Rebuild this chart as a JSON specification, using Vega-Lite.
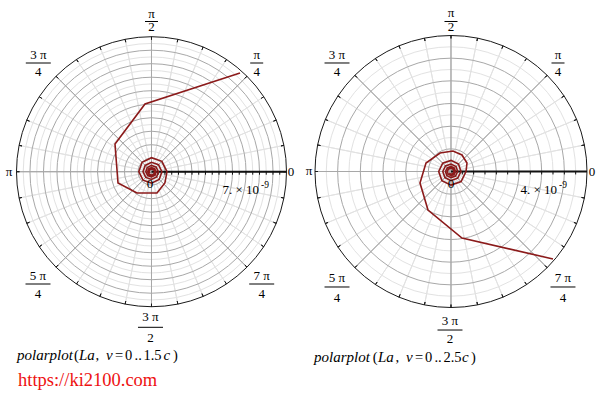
{
"$schema": "https://vega.github.io/schema/vega-lite/v6.json",
"background": "white",
"padding": 0,
"spacing": 0,
"config": {"view": {"stroke": null}, "text": {"font": "Liberation Serif"}},
"resolve": {"scale": {"x": "independent", "y": "independent", "theta": "independent", "radius": "independent", "stroke": "independent", "strokeWidth": "independent"}},
"datasets": {
"arcL": [
{"t1":0,"t2":360,"r1":0,"r2":0.5,"k":"minor"},{"t1":0,"t2":360,"r1":0,"r2":1.5,"k":"minor"},{"t1":0,"t2":360,"r1":0,"r2":2.5,"k":"minor"},{"t1":0,"t2":360,"r1":0,"r2":3.5,"k":"minor"},{"t1":0,"t2":360,"r1":0,"r2":4.5,"k":"minor"},{"t1":0,"t2":360,"r1":0,"r2":5.5,"k":"minor"},{"t1":0,"t2":360,"r1":0,"r2":6.5,"k":"minor"},{"t1":0,"t2":360,"r1":0,"r2":7.5,"k":"minor"},{"t1":0,"t2":360,"r1":0,"r2":8.5,"k":"minor"},{"t1":0,"t2":360,"r1":0,"r2":9.5,"k":"minor"},
{"t1":11.25,"t2":11.25,"r1":0,"r2":10,"k":"minor"},{"t1":22.5,"t2":22.5,"r1":0,"r2":10,"k":"minor"},{"t1":33.75,"t2":33.75,"r1":0,"r2":10,"k":"minor"},{"t1":56.25,"t2":56.25,"r1":0,"r2":10,"k":"minor"},{"t1":67.5,"t2":67.5,"r1":0,"r2":10,"k":"minor"},{"t1":78.75,"t2":78.75,"r1":0,"r2":10,"k":"minor"},{"t1":101.25,"t2":101.25,"r1":0,"r2":10,"k":"minor"},{"t1":112.5,"t2":112.5,"r1":0,"r2":10,"k":"minor"},{"t1":123.75,"t2":123.75,"r1":0,"r2":10,"k":"minor"},{"t1":146.25,"t2":146.25,"r1":0,"r2":10,"k":"minor"},{"t1":157.5,"t2":157.5,"r1":0,"r2":10,"k":"minor"},{"t1":168.75,"t2":168.75,"r1":0,"r2":10,"k":"minor"},{"t1":191.25,"t2":191.25,"r1":0,"r2":10,"k":"minor"},{"t1":202.5,"t2":202.5,"r1":0,"r2":10,"k":"minor"},{"t1":213.75,"t2":213.75,"r1":0,"r2":10,"k":"minor"},{"t1":236.25,"t2":236.25,"r1":0,"r2":10,"k":"minor"},{"t1":247.5,"t2":247.5,"r1":0,"r2":10,"k":"minor"},{"t1":258.75,"t2":258.75,"r1":0,"r2":10,"k":"minor"},{"t1":281.25,"t2":281.25,"r1":0,"r2":10,"k":"minor"},{"t1":292.5,"t2":292.5,"r1":0,"r2":10,"k":"minor"},{"t1":303.75,"t2":303.75,"r1":0,"r2":10,"k":"minor"},{"t1":326.25,"t2":326.25,"r1":0,"r2":10,"k":"minor"},{"t1":337.5,"t2":337.5,"r1":0,"r2":10,"k":"minor"},{"t1":348.75,"t2":348.75,"r1":0,"r2":10,"k":"minor"},
{"t1":0,"t2":360,"r1":0,"r2":1,"k":"major"},{"t1":0,"t2":360,"r1":0,"r2":2,"k":"major"},{"t1":0,"t2":360,"r1":0,"r2":3,"k":"major"},{"t1":0,"t2":360,"r1":0,"r2":4,"k":"major"},{"t1":0,"t2":360,"r1":0,"r2":5,"k":"major"},{"t1":0,"t2":360,"r1":0,"r2":6,"k":"major"},{"t1":0,"t2":360,"r1":0,"r2":7,"k":"major"},{"t1":0,"t2":360,"r1":0,"r2":8,"k":"major"},{"t1":0,"t2":360,"r1":0,"r2":9,"k":"major"},
{"t1":0,"t2":0,"r1":0,"r2":10,"k":"major"},{"t1":45,"t2":45,"r1":0,"r2":10,"k":"major"},{"t1":90,"t2":90,"r1":0,"r2":10,"k":"major"},{"t1":135,"t2":135,"r1":0,"r2":10,"k":"major"},{"t1":180,"t2":180,"r1":0,"r2":10,"k":"major"},{"t1":225,"t2":225,"r1":0,"r2":10,"k":"major"},{"t1":270,"t2":270,"r1":0,"r2":10,"k":"major"},{"t1":315,"t2":315,"r1":0,"r2":10,"k":"major"},
{"t1":0,"t2":360,"r1":0,"r2":10,"k":"outer"},
{"t1":0,"t2":0,"r1":9.78,"r2":10,"k":"tick"},{"t1":11.25,"t2":11.25,"r1":9.78,"r2":10,"k":"tick"},{"t1":22.5,"t2":22.5,"r1":9.78,"r2":10,"k":"tick"},{"t1":33.75,"t2":33.75,"r1":9.78,"r2":10,"k":"tick"},{"t1":45,"t2":45,"r1":9.78,"r2":10,"k":"tick"},{"t1":56.25,"t2":56.25,"r1":9.78,"r2":10,"k":"tick"},{"t1":67.5,"t2":67.5,"r1":9.78,"r2":10,"k":"tick"},{"t1":78.75,"t2":78.75,"r1":9.78,"r2":10,"k":"tick"},{"t1":90,"t2":90,"r1":9.78,"r2":10,"k":"tick"},{"t1":101.25,"t2":101.25,"r1":9.78,"r2":10,"k":"tick"},{"t1":112.5,"t2":112.5,"r1":9.78,"r2":10,"k":"tick"},{"t1":123.75,"t2":123.75,"r1":9.78,"r2":10,"k":"tick"},{"t1":135,"t2":135,"r1":9.78,"r2":10,"k":"tick"},{"t1":146.25,"t2":146.25,"r1":9.78,"r2":10,"k":"tick"},{"t1":157.5,"t2":157.5,"r1":9.78,"r2":10,"k":"tick"},{"t1":168.75,"t2":168.75,"r1":9.78,"r2":10,"k":"tick"},{"t1":180,"t2":180,"r1":9.78,"r2":10,"k":"tick"},{"t1":191.25,"t2":191.25,"r1":9.78,"r2":10,"k":"tick"},{"t1":202.5,"t2":202.5,"r1":9.78,"r2":10,"k":"tick"},{"t1":213.75,"t2":213.75,"r1":9.78,"r2":10,"k":"tick"},{"t1":225,"t2":225,"r1":9.78,"r2":10,"k":"tick"},{"t1":236.25,"t2":236.25,"r1":9.78,"r2":10,"k":"tick"},{"t1":247.5,"t2":247.5,"r1":9.78,"r2":10,"k":"tick"},{"t1":258.75,"t2":258.75,"r1":9.78,"r2":10,"k":"tick"},{"t1":270,"t2":270,"r1":9.78,"r2":10,"k":"tick"},{"t1":281.25,"t2":281.25,"r1":9.78,"r2":10,"k":"tick"},{"t1":292.5,"t2":292.5,"r1":9.78,"r2":10,"k":"tick"},{"t1":303.75,"t2":303.75,"r1":9.78,"r2":10,"k":"tick"},{"t1":315,"t2":315,"r1":9.78,"r2":10,"k":"tick"},{"t1":326.25,"t2":326.25,"r1":9.78,"r2":10,"k":"tick"},{"t1":337.5,"t2":337.5,"r1":9.78,"r2":10,"k":"tick"},{"t1":348.75,"t2":348.75,"r1":9.78,"r2":10,"k":"tick"}
],
"arcR": [
{"t1":0,"t2":360,"r1":0,"r2":0.5,"k":"minor"},{"t1":0,"t2":360,"r1":0,"r2":1.5,"k":"minor"},{"t1":0,"t2":360,"r1":0,"r2":2.5,"k":"minor"},{"t1":0,"t2":360,"r1":0,"r2":3.5,"k":"minor"},{"t1":0,"t2":360,"r1":0,"r2":4.5,"k":"minor"},{"t1":0,"t2":360,"r1":0,"r2":5.5,"k":"minor"},
{"t1":11.25,"t2":11.25,"r1":0,"r2":6,"k":"minor"},{"t1":22.5,"t2":22.5,"r1":0,"r2":6,"k":"minor"},{"t1":33.75,"t2":33.75,"r1":0,"r2":6,"k":"minor"},{"t1":56.25,"t2":56.25,"r1":0,"r2":6,"k":"minor"},{"t1":67.5,"t2":67.5,"r1":0,"r2":6,"k":"minor"},{"t1":78.75,"t2":78.75,"r1":0,"r2":6,"k":"minor"},{"t1":101.25,"t2":101.25,"r1":0,"r2":6,"k":"minor"},{"t1":112.5,"t2":112.5,"r1":0,"r2":6,"k":"minor"},{"t1":123.75,"t2":123.75,"r1":0,"r2":6,"k":"minor"},{"t1":146.25,"t2":146.25,"r1":0,"r2":6,"k":"minor"},{"t1":157.5,"t2":157.5,"r1":0,"r2":6,"k":"minor"},{"t1":168.75,"t2":168.75,"r1":0,"r2":6,"k":"minor"},{"t1":191.25,"t2":191.25,"r1":0,"r2":6,"k":"minor"},{"t1":202.5,"t2":202.5,"r1":0,"r2":6,"k":"minor"},{"t1":213.75,"t2":213.75,"r1":0,"r2":6,"k":"minor"},{"t1":236.25,"t2":236.25,"r1":0,"r2":6,"k":"minor"},{"t1":247.5,"t2":247.5,"r1":0,"r2":6,"k":"minor"},{"t1":258.75,"t2":258.75,"r1":0,"r2":6,"k":"minor"},{"t1":281.25,"t2":281.25,"r1":0,"r2":6,"k":"minor"},{"t1":292.5,"t2":292.5,"r1":0,"r2":6,"k":"minor"},{"t1":303.75,"t2":303.75,"r1":0,"r2":6,"k":"minor"},{"t1":326.25,"t2":326.25,"r1":0,"r2":6,"k":"minor"},{"t1":337.5,"t2":337.5,"r1":0,"r2":6,"k":"minor"},{"t1":348.75,"t2":348.75,"r1":0,"r2":6,"k":"minor"},
{"t1":0,"t2":360,"r1":0,"r2":1,"k":"major"},{"t1":0,"t2":360,"r1":0,"r2":2,"k":"major"},{"t1":0,"t2":360,"r1":0,"r2":3,"k":"major"},{"t1":0,"t2":360,"r1":0,"r2":4,"k":"major"},{"t1":0,"t2":360,"r1":0,"r2":5,"k":"major"},
{"t1":0,"t2":0,"r1":0,"r2":6,"k":"major"},{"t1":45,"t2":45,"r1":0,"r2":6,"k":"major"},{"t1":90,"t2":90,"r1":0,"r2":6,"k":"major"},{"t1":135,"t2":135,"r1":0,"r2":6,"k":"major"},{"t1":180,"t2":180,"r1":0,"r2":6,"k":"major"},{"t1":225,"t2":225,"r1":0,"r2":6,"k":"major"},{"t1":270,"t2":270,"r1":0,"r2":6,"k":"major"},{"t1":315,"t2":315,"r1":0,"r2":6,"k":"major"},
{"t1":0,"t2":360,"r1":0,"r2":6,"k":"outer"},
{"t1":0,"t2":0,"r1":5.87,"r2":6,"k":"tick"},{"t1":11.25,"t2":11.25,"r1":5.87,"r2":6,"k":"tick"},{"t1":22.5,"t2":22.5,"r1":5.87,"r2":6,"k":"tick"},{"t1":33.75,"t2":33.75,"r1":5.87,"r2":6,"k":"tick"},{"t1":45,"t2":45,"r1":5.87,"r2":6,"k":"tick"},{"t1":56.25,"t2":56.25,"r1":5.87,"r2":6,"k":"tick"},{"t1":67.5,"t2":67.5,"r1":5.87,"r2":6,"k":"tick"},{"t1":78.75,"t2":78.75,"r1":5.87,"r2":6,"k":"tick"},{"t1":90,"t2":90,"r1":5.87,"r2":6,"k":"tick"},{"t1":101.25,"t2":101.25,"r1":5.87,"r2":6,"k":"tick"},{"t1":112.5,"t2":112.5,"r1":5.87,"r2":6,"k":"tick"},{"t1":123.75,"t2":123.75,"r1":5.87,"r2":6,"k":"tick"},{"t1":135,"t2":135,"r1":5.87,"r2":6,"k":"tick"},{"t1":146.25,"t2":146.25,"r1":5.87,"r2":6,"k":"tick"},{"t1":157.5,"t2":157.5,"r1":5.87,"r2":6,"k":"tick"},{"t1":168.75,"t2":168.75,"r1":5.87,"r2":6,"k":"tick"},{"t1":180,"t2":180,"r1":5.87,"r2":6,"k":"tick"},{"t1":191.25,"t2":191.25,"r1":5.87,"r2":6,"k":"tick"},{"t1":202.5,"t2":202.5,"r1":5.87,"r2":6,"k":"tick"},{"t1":213.75,"t2":213.75,"r1":5.87,"r2":6,"k":"tick"},{"t1":225,"t2":225,"r1":5.87,"r2":6,"k":"tick"},{"t1":236.25,"t2":236.25,"r1":5.87,"r2":6,"k":"tick"},{"t1":247.5,"t2":247.5,"r1":5.87,"r2":6,"k":"tick"},{"t1":258.75,"t2":258.75,"r1":5.87,"r2":6,"k":"tick"},{"t1":270,"t2":270,"r1":5.87,"r2":6,"k":"tick"},{"t1":281.25,"t2":281.25,"r1":5.87,"r2":6,"k":"tick"},{"t1":292.5,"t2":292.5,"r1":5.87,"r2":6,"k":"tick"},{"t1":303.75,"t2":303.75,"r1":5.87,"r2":6,"k":"tick"},{"t1":315,"t2":315,"r1":5.87,"r2":6,"k":"tick"},{"t1":326.25,"t2":326.25,"r1":5.87,"r2":6,"k":"tick"},{"t1":337.5,"t2":337.5,"r1":5.87,"r2":6,"k":"tick"},{"t1":348.75,"t2":348.75,"r1":5.87,"r2":6,"k":"tick"}
],
"spiralL": [
{"i":0,"x":-0.126,"y":-0.126},{"i":1,"x":-0.185,"y":0},{"i":2,"x":-0.141,"y":0.141},{"i":3,"x":0,"y":0.207},{"i":4,"x":0.152,"y":0.152},{"i":5,"x":0.23,"y":0},{"i":6,"x":0.173,"y":-0.173},{"i":7,"x":0,"y":-0.252},{"i":8,"x":-0.189,"y":-0.189},{"i":9,"x":-0.281,"y":0},{"i":10,"x":-0.209,"y":0.209},{"i":11,"x":0,"y":0.311},{"i":12,"x":0.231,"y":0.231},{"i":13,"x":0.341,"y":0},{"i":14,"x":0.257,"y":-0.257},{"i":15,"x":0,"y":-0.378},{"i":16,"x":-0.283,"y":-0.283},{"i":17,"x":-0.422,"y":0},{"i":18,"x":-0.314,"y":0.314},{"i":19,"x":0,"y":0.467},{"i":20,"x":0.346,"y":0.346},{"i":21,"x":0.511,"y":0},{"i":22,"x":0.383,"y":-0.383},{"i":23,"x":0,"y":-0.57},{"i":24,"x":-0.424,"y":-0.424},{"i":25,"x":-0.63,"y":0},{"i":26,"x":-0.466,"y":0.466},{"i":27,"x":0,"y":0.696},{"i":28,"x":0.518,"y":0.518},{"i":29,"x":0.77,"y":0},{"i":30,"x":0.571,"y":-0.571},{"i":31,"x":0,"y":-0.844},{"i":32,"x":-0.629,"y":-0.629},{"i":33,"x":-0.941,"y":0},{"i":34,"x":-0.696,"y":0.696},{"i":35,"x":0,"y":1.037},{"i":36,"x":0.77,"y":0.77},{"i":37,"x":1.148,"y":0},{"i":38,"x":0.993,"y":-0.83},{"i":39,"x":0.407,"y":-1.578},{"i":40,"x":-1.074,"y":-1.578},{"i":41,"x":-2.481,"y":-0.837},{"i":42,"x":-2.704,"y":2.052},{"i":43,"x":-0.481,"y":5.015},{"i":44,"x":6.556,"y":7.311}
],
"spiralR": [
{"i":0,"x":-0.081,"y":-0.081},{"i":1,"x":0,"y":-0.119},{"i":2,"x":0.091,"y":-0.091},{"i":3,"x":0.132,"y":0},{"i":4,"x":0.1,"y":0.1},{"i":5,"x":0,"y":0.146},{"i":6,"x":-0.109,"y":0.109},{"i":7,"x":-0.163,"y":0},{"i":8,"x":-0.122,"y":-0.122},{"i":9,"x":0,"y":-0.181},{"i":10,"x":0.134,"y":-0.134},{"i":11,"x":0.199,"y":0},{"i":12,"x":0.146,"y":0.146},{"i":13,"x":0,"y":0.221},{"i":14,"x":-0.162,"y":0.162},{"i":15,"x":-0.243,"y":0},{"i":16,"x":-0.181,"y":-0.181},{"i":17,"x":0,"y":-0.269},{"i":18,"x":0.199,"y":-0.199},{"i":19,"x":0.296,"y":0},{"i":20,"x":0.221,"y":0.221},{"i":21,"x":0,"y":0.326},{"i":22,"x":-0.243,"y":0.243},{"i":23,"x":-0.362,"y":0},{"i":24,"x":-0.268,"y":-0.268},{"i":25,"x":0,"y":-0.401},{"i":26,"x":0.296,"y":-0.296},{"i":27,"x":0.441,"y":0},{"i":28,"x":0.331,"y":0.331},{"i":29,"x":0,"y":0.49},{"i":30,"x":-0.365,"y":0.365},{"i":31,"x":-0.543,"y":0},{"i":32,"x":-0.402,"y":-0.402},{"i":33,"x":0,"y":-0.6},{"i":34,"x":0.446,"y":-0.446},{"i":35,"x":0.662,"y":0},{"i":36,"x":0.706,"y":0.375},{"i":37,"x":0.485,"y":0.728},{"i":38,"x":0.088,"y":0.904},{"i":39,"x":-0.485,"y":0.816},{"i":40,"x":-1.103,"y":0.375},{"i":41,"x":-1.368,"y":-0.507},{"i":42,"x":-1.015,"y":-1.699},{"i":43,"x":0.485,"y":-2.934},{"i":44,"x":4.5,"y":-3.86}
]
},
"hconcat": [
{
"width": 300, "height": 405,
"layer": [
{"data": {"name": "arcL"}, "mark": {"type": "arc", "fill": "transparent"},
 "encoding": {
  "x": {"datum": 0, "type": "quantitative", "scale": {"domain": [-11.222, 11.0], "nice": false, "zero": false}, "axis": null},
  "y": {"datum": 0, "type": "quantitative", "scale": {"domain": [-17.281, 12.719], "nice": false, "zero": false}, "axis": null},
  "theta": {"field": "t1", "type": "quantitative", "stack": null, "scale": {"domain": [0, 360], "range": [0, 6.283185307179586]}},
  "theta2": {"field": "t2"},
  "radius": {"field": "r2", "type": "quantitative", "scale": {"type": "linear", "domain": [0, 10], "range": [0, 135], "zero": true}},
  "radius2": {"field": "r1"},
  "stroke": {"field": "k", "type": "nominal", "scale": {"domain": ["minor", "major", "outer", "tick"], "range": ["#e2e2e2", "#a8a8a8", "#1a1a1a", "#1a1a1a"]}, "legend": null},
  "strokeWidth": {"field": "k", "type": "nominal", "scale": {"domain": ["minor", "major", "outer", "tick"], "range": [1, 1, 1.3, 1]}, "legend": null}
 }},
{"data": {"values": [{"a": 0, "b": 10}]}, "mark": {"type": "rule", "color": "#111111", "strokeWidth": 2},
 "encoding": {
  "x": {"field": "a", "type": "quantitative", "scale": {"domain": [-11.222, 11.0], "nice": false, "zero": false}, "axis": null},
  "x2": {"field": "b"},
  "y": {"datum": 0, "type": "quantitative", "scale": {"domain": [-17.281, 12.719], "nice": false, "zero": false}, "axis": null}
 }},
{"data": {"values": [{"p":0.5},{"p":1},{"p":1.5},{"p":2},{"p":2.5},{"p":3},{"p":3.5},{"p":4},{"p":4.5},{"p":5},{"p":5.5},{"p":6},{"p":6.5},{"p":7},{"p":7.5},{"p":8},{"p":8.5},{"p":9},{"p":9.5}]}, "mark": {"type": "rule", "color": "#111111", "strokeWidth": 1},
 "encoding": {
  "x": {"field": "p", "type": "quantitative", "scale": {"domain": [-11.222, 11.0], "nice": false, "zero": false}, "axis": null},
  "y": {"datum": 0, "type": "quantitative", "scale": {"domain": [-17.281, 12.719], "nice": false, "zero": false}, "axis": null},
  "y2": {"datum": -0.22}
 }},
{"data": {"name": "spiralL"}, "mark": {"type": "line", "color": "#8b1a1a", "strokeWidth": 1.6},
 "encoding": {
  "x": {"field": "x", "type": "quantitative", "scale": {"domain": [-11.222, 11.0], "nice": false, "zero": false}, "axis": null},
  "y": {"field": "y", "type": "quantitative", "scale": {"domain": [-17.281, 12.719], "nice": false, "zero": false}, "axis": null},
  "order": {"field": "i", "type": "quantitative"}
 }},
{"data": {"values": [{"a":-0.481,"b":0.481,"y":11.126},{"a":7.312,"b":8.274,"y":8.052},{"a":-9.311,"b":-7.459,"y":8.052},{"a":-9.333,"b":-7.481,"y":-8.319},{"a":7.237,"b":9.089,"y":-8.319},{"a":-1.0,"b":0.852,"y":-11.526}]}, "mark": {"type": "rule", "color": "#000000", "strokeWidth": 1},
 "encoding": {
  "x": {"field": "a", "type": "quantitative", "scale": {"domain": [-11.222, 11.0], "nice": false, "zero": false}, "axis": null},
  "x2": {"field": "b"},
  "y": {"field": "y", "type": "quantitative", "scale": {"domain": [-17.281, 12.719], "nice": false, "zero": false}, "axis": null}
 }},
{"data": {"values": [{"t":"0","x":10.333,"y":-0.319},{"t":"π","x":-10.556,"y":-0.281},{"t":"π","x":0,"y":11.422},{"t":"2","x":0,"y":10.422},{"t":"π","x":7.793,"y":8.348},{"t":"4","x":7.793,"y":7.089},{"t":"3 π","x":-8.385,"y":8.348},{"t":"4","x":-8.385,"y":7.089},{"t":"5 π","x":-8.407,"y":-8.022},{"t":"4","x":-8.407,"y":-9.356},{"t":"7 π","x":8.163,"y":-8.022},{"t":"4","x":8.163,"y":-9.356},{"t":"3 π","x":-0.074,"y":-11.067},{"t":"2","x":-0.074,"y":-12.615},{"t":"0","x":-0.111,"y":-1.17}]},
 "mark": {"type": "text", "font": "Liberation Serif", "fontSize": 13, "align": "center", "baseline": "alphabetic", "color": "#000000"},
 "encoding": {
  "x": {"field": "x", "type": "quantitative", "scale": {"domain": [-11.222, 11.0], "nice": false, "zero": false}, "axis": null},
  "y": {"field": "y", "type": "quantitative", "scale": {"domain": [-17.281, 12.719], "nice": false, "zero": false}, "axis": null},
  "text": {"field": "t"}
 }},
{"data": {"values": [{"t":"7. × 10","x":7.963,"y":-1.356}]},
 "mark": {"type": "text", "font": "Liberation Serif", "fontSize": 13, "align": "right", "baseline": "middle", "color": "#000000"},
 "encoding": {
  "x": {"field": "x", "type": "quantitative", "scale": {"domain": [-11.222, 11.0], "nice": false, "zero": false}, "axis": null},
  "y": {"field": "y", "type": "quantitative", "scale": {"domain": [-17.281, 12.719], "nice": false, "zero": false}, "axis": null},
  "text": {"field": "t"}
 }},
{"data": {"values": [{"t":"-9","x":8.111,"y":-0.948}]},
 "mark": {"type": "text", "font": "Liberation Serif", "fontSize": 9.5, "align": "left", "baseline": "middle", "color": "#000000"},
 "encoding": {
  "x": {"field": "x", "type": "quantitative", "scale": {"domain": [-11.222, 11.0], "nice": false, "zero": false}, "axis": null},
  "y": {"field": "y", "type": "quantitative", "scale": {"domain": [-17.281, 12.719], "nice": false, "zero": false}, "axis": null},
  "text": {"field": "t"}
 }},
{"data": {"values": [{"t":"polarplot","x":-9.963,"y":-13.911},{"t":"La","x":-5.37,"y":-13.911},{"t":"v","x":-3.37,"y":-13.911},{"t":"c","x":0.889,"y":-13.911}]},
 "mark": {"type": "text", "font": "Liberation Serif", "fontSize": 15, "fontStyle": "italic", "align": "left", "baseline": "alphabetic", "color": "#000000"},
 "encoding": {
  "x": {"field": "x", "type": "quantitative", "scale": {"domain": [-11.222, 11.0], "nice": false, "zero": false}, "axis": null},
  "y": {"field": "y", "type": "quantitative", "scale": {"domain": [-17.281, 12.719], "nice": false, "zero": false}, "axis": null},
  "text": {"field": "t"}
 }},
{"data": {"values": [{"t":"(","x":-5.741,"y":-13.911},{"t":",","x":-4.148,"y":-13.911},{"t":"=","x":-2.704,"y":-13.911},{"t":"0","x":-1.963,"y":-13.911},{"t":"..","x":-1.259,"y":-13.911},{"t":"1.5","x":-0.593,"y":-13.911},{"t":")","x":1.593,"y":-13.911}]},
 "mark": {"type": "text", "font": "Liberation Serif", "fontSize": 14.5, "align": "left", "baseline": "alphabetic", "color": "#000000"},
 "encoding": {
  "x": {"field": "x", "type": "quantitative", "scale": {"domain": [-11.222, 11.0], "nice": false, "zero": false}, "axis": null},
  "y": {"field": "y", "type": "quantitative", "scale": {"domain": [-17.281, 12.719], "nice": false, "zero": false}, "axis": null},
  "text": {"field": "t"}
 }},
{"data": {"values": [{"t":"https://ki2100.com","x":-9.889,"y":-15.874}]},
 "mark": {"type": "text", "font": "Liberation Serif", "fontSize": 18.5, "align": "left", "baseline": "alphabetic", "color": "#ee1111"},
 "encoding": {
  "x": {"field": "x", "type": "quantitative", "scale": {"domain": [-11.222, 11.0], "nice": false, "zero": false}, "axis": null},
  "y": {"field": "y", "type": "quantitative", "scale": {"domain": [-17.281, 12.719], "nice": false, "zero": false}, "axis": null},
  "text": {"field": "t"}
 }}
]
},
{
"width": 300, "height": 405,
"layer": [
{"data": {"name": "arcR"}, "mark": {"type": "arc", "fill": "transparent"},
 "encoding": {
  "x": {"datum": 0, "type": "quantitative", "scale": {"domain": [-6.662, 6.574], "nice": false, "zero": false}, "axis": null},
  "y": {"datum": 0, "type": "quantitative", "scale": {"domain": [-10.301, 7.566], "nice": false, "zero": false}, "axis": null},
  "theta": {"field": "t1", "type": "quantitative", "stack": null, "scale": {"domain": [0, 360], "range": [0, 6.283185307179586]}},
  "theta2": {"field": "t2"},
  "radius": {"field": "r2", "type": "quantitative", "scale": {"type": "linear", "domain": [0, 6], "range": [0, 136], "zero": true}},
  "radius2": {"field": "r1"},
  "stroke": {"field": "k", "type": "nominal", "scale": {"domain": ["minor", "major", "outer", "tick"], "range": ["#e2e2e2", "#a8a8a8", "#1a1a1a", "#1a1a1a"]}, "legend": null},
  "strokeWidth": {"field": "k", "type": "nominal", "scale": {"domain": ["minor", "major", "outer", "tick"], "range": [1, 1, 1.3, 1]}, "legend": null}
 }},
{"data": {"values": [{"a": 0, "b": 6}]}, "mark": {"type": "rule", "color": "#111111", "strokeWidth": 2},
 "encoding": {
  "x": {"field": "a", "type": "quantitative", "scale": {"domain": [-6.662, 6.574], "nice": false, "zero": false}, "axis": null},
  "x2": {"field": "b"},
  "y": {"datum": 0, "type": "quantitative", "scale": {"domain": [-10.301, 7.566], "nice": false, "zero": false}, "axis": null}
 }},
{"data": {"values": [{"p":0.5},{"p":1},{"p":1.5},{"p":2},{"p":2.5},{"p":3},{"p":3.5},{"p":4},{"p":4.5},{"p":5},{"p":5.5}]}, "mark": {"type": "rule", "color": "#111111", "strokeWidth": 1},
 "encoding": {
  "x": {"field": "p", "type": "quantitative", "scale": {"domain": [-6.662, 6.574], "nice": false, "zero": false}, "axis": null},
  "y": {"datum": 0, "type": "quantitative", "scale": {"domain": [-10.301, 7.566], "nice": false, "zero": false}, "axis": null},
  "y2": {"datum": -0.13}
 }},
{"data": {"name": "spiralR"}, "mark": {"type": "line", "color": "#8b1a1a", "strokeWidth": 1.6},
 "encoding": {
  "x": {"field": "x", "type": "quantitative", "scale": {"domain": [-6.662, 6.574], "nice": false, "zero": false}, "axis": null},
  "y": {"field": "y", "type": "quantitative", "scale": {"domain": [-10.301, 7.566], "nice": false, "zero": false}, "axis": null},
  "order": {"field": "i", "type": "quantitative"}
 }},
{"data": {"values": [{"a":-0.287,"b":0.287,"y":6.618},{"a":4.434,"b":5.008,"y":4.787},{"a":-5.58,"b":-4.478,"y":4.787},{"a":-5.58,"b":-4.478,"y":-5.095},{"a":4.39,"b":5.492,"y":-5.095},{"a":-0.595,"b":0.507,"y":-6.993}]}, "mark": {"type": "rule", "color": "#000000", "strokeWidth": 1},
 "encoding": {
  "x": {"field": "a", "type": "quantitative", "scale": {"domain": [-6.662, 6.574], "nice": false, "zero": false}, "axis": null},
  "x2": {"field": "b"},
  "y": {"field": "y", "type": "quantitative", "scale": {"domain": [-10.301, 7.566], "nice": false, "zero": false}, "axis": null}
 }},
{"data": {"values": [{"t":"0","x":6.221,"y":-0.199},{"t":"π","x":-6.265,"y":-0.176},{"t":"π","x":0,"y":6.794},{"t":"2","x":0,"y":6.199},{"t":"π","x":4.721,"y":4.963},{"t":"4","x":4.721,"y":4.213},{"t":"3 π","x":-5.029,"y":4.963},{"t":"4","x":-5.029,"y":4.213},{"t":"5 π","x":-5.029,"y":-4.875},{"t":"4","x":-5.029,"y":-5.757},{"t":"7 π","x":4.941,"y":-4.875},{"t":"4","x":4.941,"y":-5.757},{"t":"3 π","x":-0.044,"y":-6.75},{"t":"2","x":-0.044,"y":-7.566},{"t":"0","x":0,"y":-0.728}]},
 "mark": {"type": "text", "font": "Liberation Serif", "fontSize": 13, "align": "center", "baseline": "alphabetic", "color": "#000000"},
 "encoding": {
  "x": {"field": "x", "type": "quantitative", "scale": {"domain": [-6.662, 6.574], "nice": false, "zero": false}, "axis": null},
  "y": {"field": "y", "type": "quantitative", "scale": {"domain": [-10.301, 7.566], "nice": false, "zero": false}, "axis": null},
  "text": {"field": "t"}
 }},
{"data": {"values": [{"t":"4. × 10","x":4.676,"y":-0.816}]},
 "mark": {"type": "text", "font": "Liberation Serif", "fontSize": 13, "align": "right", "baseline": "middle", "color": "#000000"},
 "encoding": {
  "x": {"field": "x", "type": "quantitative", "scale": {"domain": [-6.662, 6.574], "nice": false, "zero": false}, "axis": null},
  "y": {"field": "y", "type": "quantitative", "scale": {"domain": [-10.301, 7.566], "nice": false, "zero": false}, "axis": null},
  "text": {"field": "t"}
 }},
{"data": {"values": [{"t":"-9","x":4.765,"y":-0.574}]},
 "mark": {"type": "text", "font": "Liberation Serif", "fontSize": 9.5, "align": "left", "baseline": "middle", "color": "#000000"},
 "encoding": {
  "x": {"field": "x", "type": "quantitative", "scale": {"domain": [-6.662, 6.574], "nice": false, "zero": false}, "axis": null},
  "y": {"field": "y", "type": "quantitative", "scale": {"domain": [-10.301, 7.566], "nice": false, "zero": false}, "axis": null},
  "text": {"field": "t"}
 }},
{"data": {"values": [{"t":"polarplot","x":-6.044,"y":-8.382},{"t":"La","x":-3.221,"y":-8.382},{"t":"v","x":-1.985,"y":-8.382},{"t":"c","x":0.485,"y":-8.382}]},
 "mark": {"type": "text", "font": "Liberation Serif", "fontSize": 15, "fontStyle": "italic", "align": "left", "baseline": "alphabetic", "color": "#000000"},
 "encoding": {
  "x": {"field": "x", "type": "quantitative", "scale": {"domain": [-6.662, 6.574], "nice": false, "zero": false}, "axis": null},
  "y": {"field": "y", "type": "quantitative", "scale": {"domain": [-10.301, 7.566], "nice": false, "zero": false}, "axis": null},
  "text": {"field": "t"}
 }},
{"data": {"values": [{"t":"(","x":-3.454,"y":-8.382},{"t":",","x":-2.449,"y":-8.382},{"t":"=","x":-1.588,"y":-8.382},{"t":"0","x":-1.147,"y":-8.382},{"t":"..","x":-0.728,"y":-8.382},{"t":"2.5","x":-0.331,"y":-8.382},{"t":")","x":0.882,"y":-8.382}]},
 "mark": {"type": "text", "font": "Liberation Serif", "fontSize": 14.5, "align": "left", "baseline": "alphabetic", "color": "#000000"},
 "encoding": {
  "x": {"field": "x", "type": "quantitative", "scale": {"domain": [-6.662, 6.574], "nice": false, "zero": false}, "axis": null},
  "y": {"field": "y", "type": "quantitative", "scale": {"domain": [-10.301, 7.566], "nice": false, "zero": false}, "axis": null},
  "text": {"field": "t"}
 }}
]
}
]
}
